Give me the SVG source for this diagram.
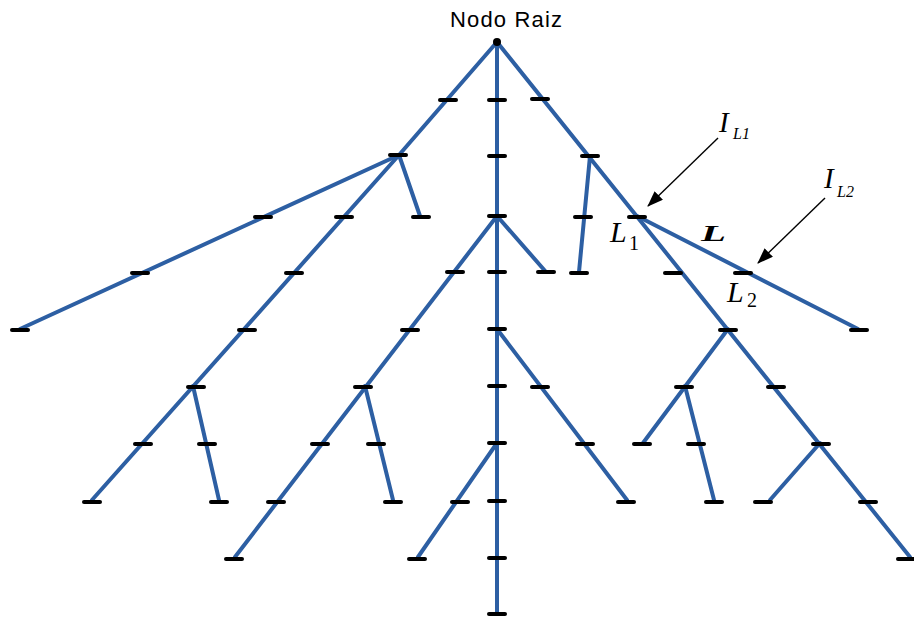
<svg xmlns="http://www.w3.org/2000/svg" width="914" height="617" viewBox="0 0 914 617">
<style>
.b{stroke:#2D5FA3;stroke-width:4;fill:none;stroke-linecap:round}
.t{stroke:#000;stroke-width:4;stroke-linecap:round}
.a{stroke:#000;stroke-width:1.4;fill:none}
.lbl{font-family:"Liberation Sans",Arial,sans-serif;font-size:22px;fill:#000}
.m{font-family:"Liberation Serif","Times New Roman",serif;fill:#000}
</style>
<defs>
<marker id="ah" markerWidth="16" markerHeight="12" refX="15" refY="6" orient="auto" markerUnits="userSpaceOnUse">
<path d="M0,0 L16,6 L0,12 Z" fill="#000"/>
</marker>
<line id="tk" class="t" x1="-8" y1="0" x2="8" y2="0"/>
</defs>
<rect width="914" height="617" fill="#fff"/>
<g id="connectors">
<line class="b" x1="497" y1="42" x2="497" y2="614"/>
<line class="b" x1="497" y1="42" x2="399" y2="155"/>
<line class="b" x1="399" y1="155" x2="20" y2="329"/>
<line class="b" x1="399" y1="155" x2="92" y2="500"/>
<line class="b" x1="399" y1="155" x2="420" y2="216"/>
<line class="b" x1="193" y1="386" x2="219" y2="500"/>
<line class="b" x1="497" y1="216" x2="235" y2="557"/>
<line class="b" x1="365" y1="386" x2="393" y2="500"/>
<line class="b" x1="497" y1="216" x2="546" y2="272"/>
<line class="b" x1="497" y1="329" x2="627" y2="500"/>
<line class="b" x1="497" y1="443" x2="418" y2="557"/>
<line class="b" x1="497" y1="42" x2="910" y2="557"/>
<line class="b" x1="590" y1="156" x2="579" y2="272"/>
<line class="b" x1="637" y1="216" x2="858" y2="329"/>
<line class="b" x1="728" y1="329" x2="643" y2="443"/>
<line class="b" x1="685" y1="386" x2="714" y2="500"/>
<line class="b" x1="820" y1="443" x2="770" y2="500"/>
<line class="a" x1="718" y1="138" x2="648" y2="206" marker-end="url(#ah)"/>
<line class="a" x1="825" y1="198" x2="758" y2="263" marker-end="url(#ah)"/>
</g>
<g id="root">
<circle cx="497" cy="42" r="4" fill="#000"/>
<text class="lbl" x="450" y="27" textLength="112">Nodo Raiz</text>
</g>
<g id="ticks">
<use href="#tk" x="497" y="100"/><use href="#tk" x="497" y="156"/><use href="#tk" x="497" y="216"/>
<use href="#tk" x="497" y="272"/><use href="#tk" x="497" y="329"/><use href="#tk" x="497" y="386"/>
<use href="#tk" x="497" y="443"/><use href="#tk" x="497" y="501"/><use href="#tk" x="497" y="558"/>
<use href="#tk" x="497" y="614"/>
<use href="#tk" x="448" y="100"/><use href="#tk" x="540" y="99"/>
<use href="#tk" x="398" y="155"/>
<use href="#tk" x="263" y="217"/><use href="#tk" x="344" y="217"/><use href="#tk" x="421" y="217"/>
<use href="#tk" x="140" y="273"/><use href="#tk" x="294" y="273"/>
<use href="#tk" x="20" y="330"/><use href="#tk" x="247" y="330"/><use href="#tk" x="410" y="330"/>
<use href="#tk" x="196" y="387"/><use href="#tk" x="143" y="444"/><use href="#tk" x="207" y="444"/>
<use href="#tk" x="92" y="502"/><use href="#tk" x="219" y="502"/>
<use href="#tk" x="363" y="387"/><use href="#tk" x="320" y="444"/><use href="#tk" x="376" y="444"/>
<use href="#tk" x="276" y="502"/><use href="#tk" x="393" y="502"/>
<use href="#tk" x="234" y="559"/><use href="#tk" x="417" y="559"/><use href="#tk" x="460" y="502"/>
<use href="#tk" x="455" y="272"/><use href="#tk" x="546" y="272"/>
<use href="#tk" x="540" y="387"/><use href="#tk" x="585" y="444"/><use href="#tk" x="626" y="502"/>
<use href="#tk" x="590" y="156"/><use href="#tk" x="583" y="217"/><use href="#tk" x="637" y="217"/>
<use href="#tk" x="579" y="273"/><use href="#tk" x="673" y="273"/><use href="#tk" x="743" y="273"/>
<use href="#tk" x="728" y="330"/><use href="#tk" x="859" y="330"/>
<use href="#tk" x="684" y="387"/><use href="#tk" x="776" y="387"/>
<use href="#tk" x="642" y="444"/><use href="#tk" x="696" y="444"/><use href="#tk" x="821" y="444"/>
<use href="#tk" x="763" y="502"/><use href="#tk" x="714" y="502"/><use href="#tk" x="868" y="502"/>
<use href="#tk" x="906" y="559"/>
</g>
<g id="labels">
<text class="m" x="719" y="132" font-size="29" font-style="italic">I</text>
<text class="m" x="733" y="139" font-size="16" font-style="italic">L1</text>
<text class="m" x="824" y="188" font-size="29" font-style="italic">I</text>
<text class="m" x="837" y="197" font-size="16" font-style="italic">L2</text>
<text class="m" x="610" y="242" font-size="30" font-style="italic">L</text>
<text class="m" x="629" y="250" font-size="20">1</text>
<text class="m" x="701" y="241" font-size="24" font-style="italic" font-weight="bold" textLength="25" lengthAdjust="spacingAndGlyphs">L</text>
<text class="m" x="727" y="302" font-size="30" font-style="italic">L</text>
<text class="m" x="747" y="307" font-size="20">2</text>
</g>
</svg>
